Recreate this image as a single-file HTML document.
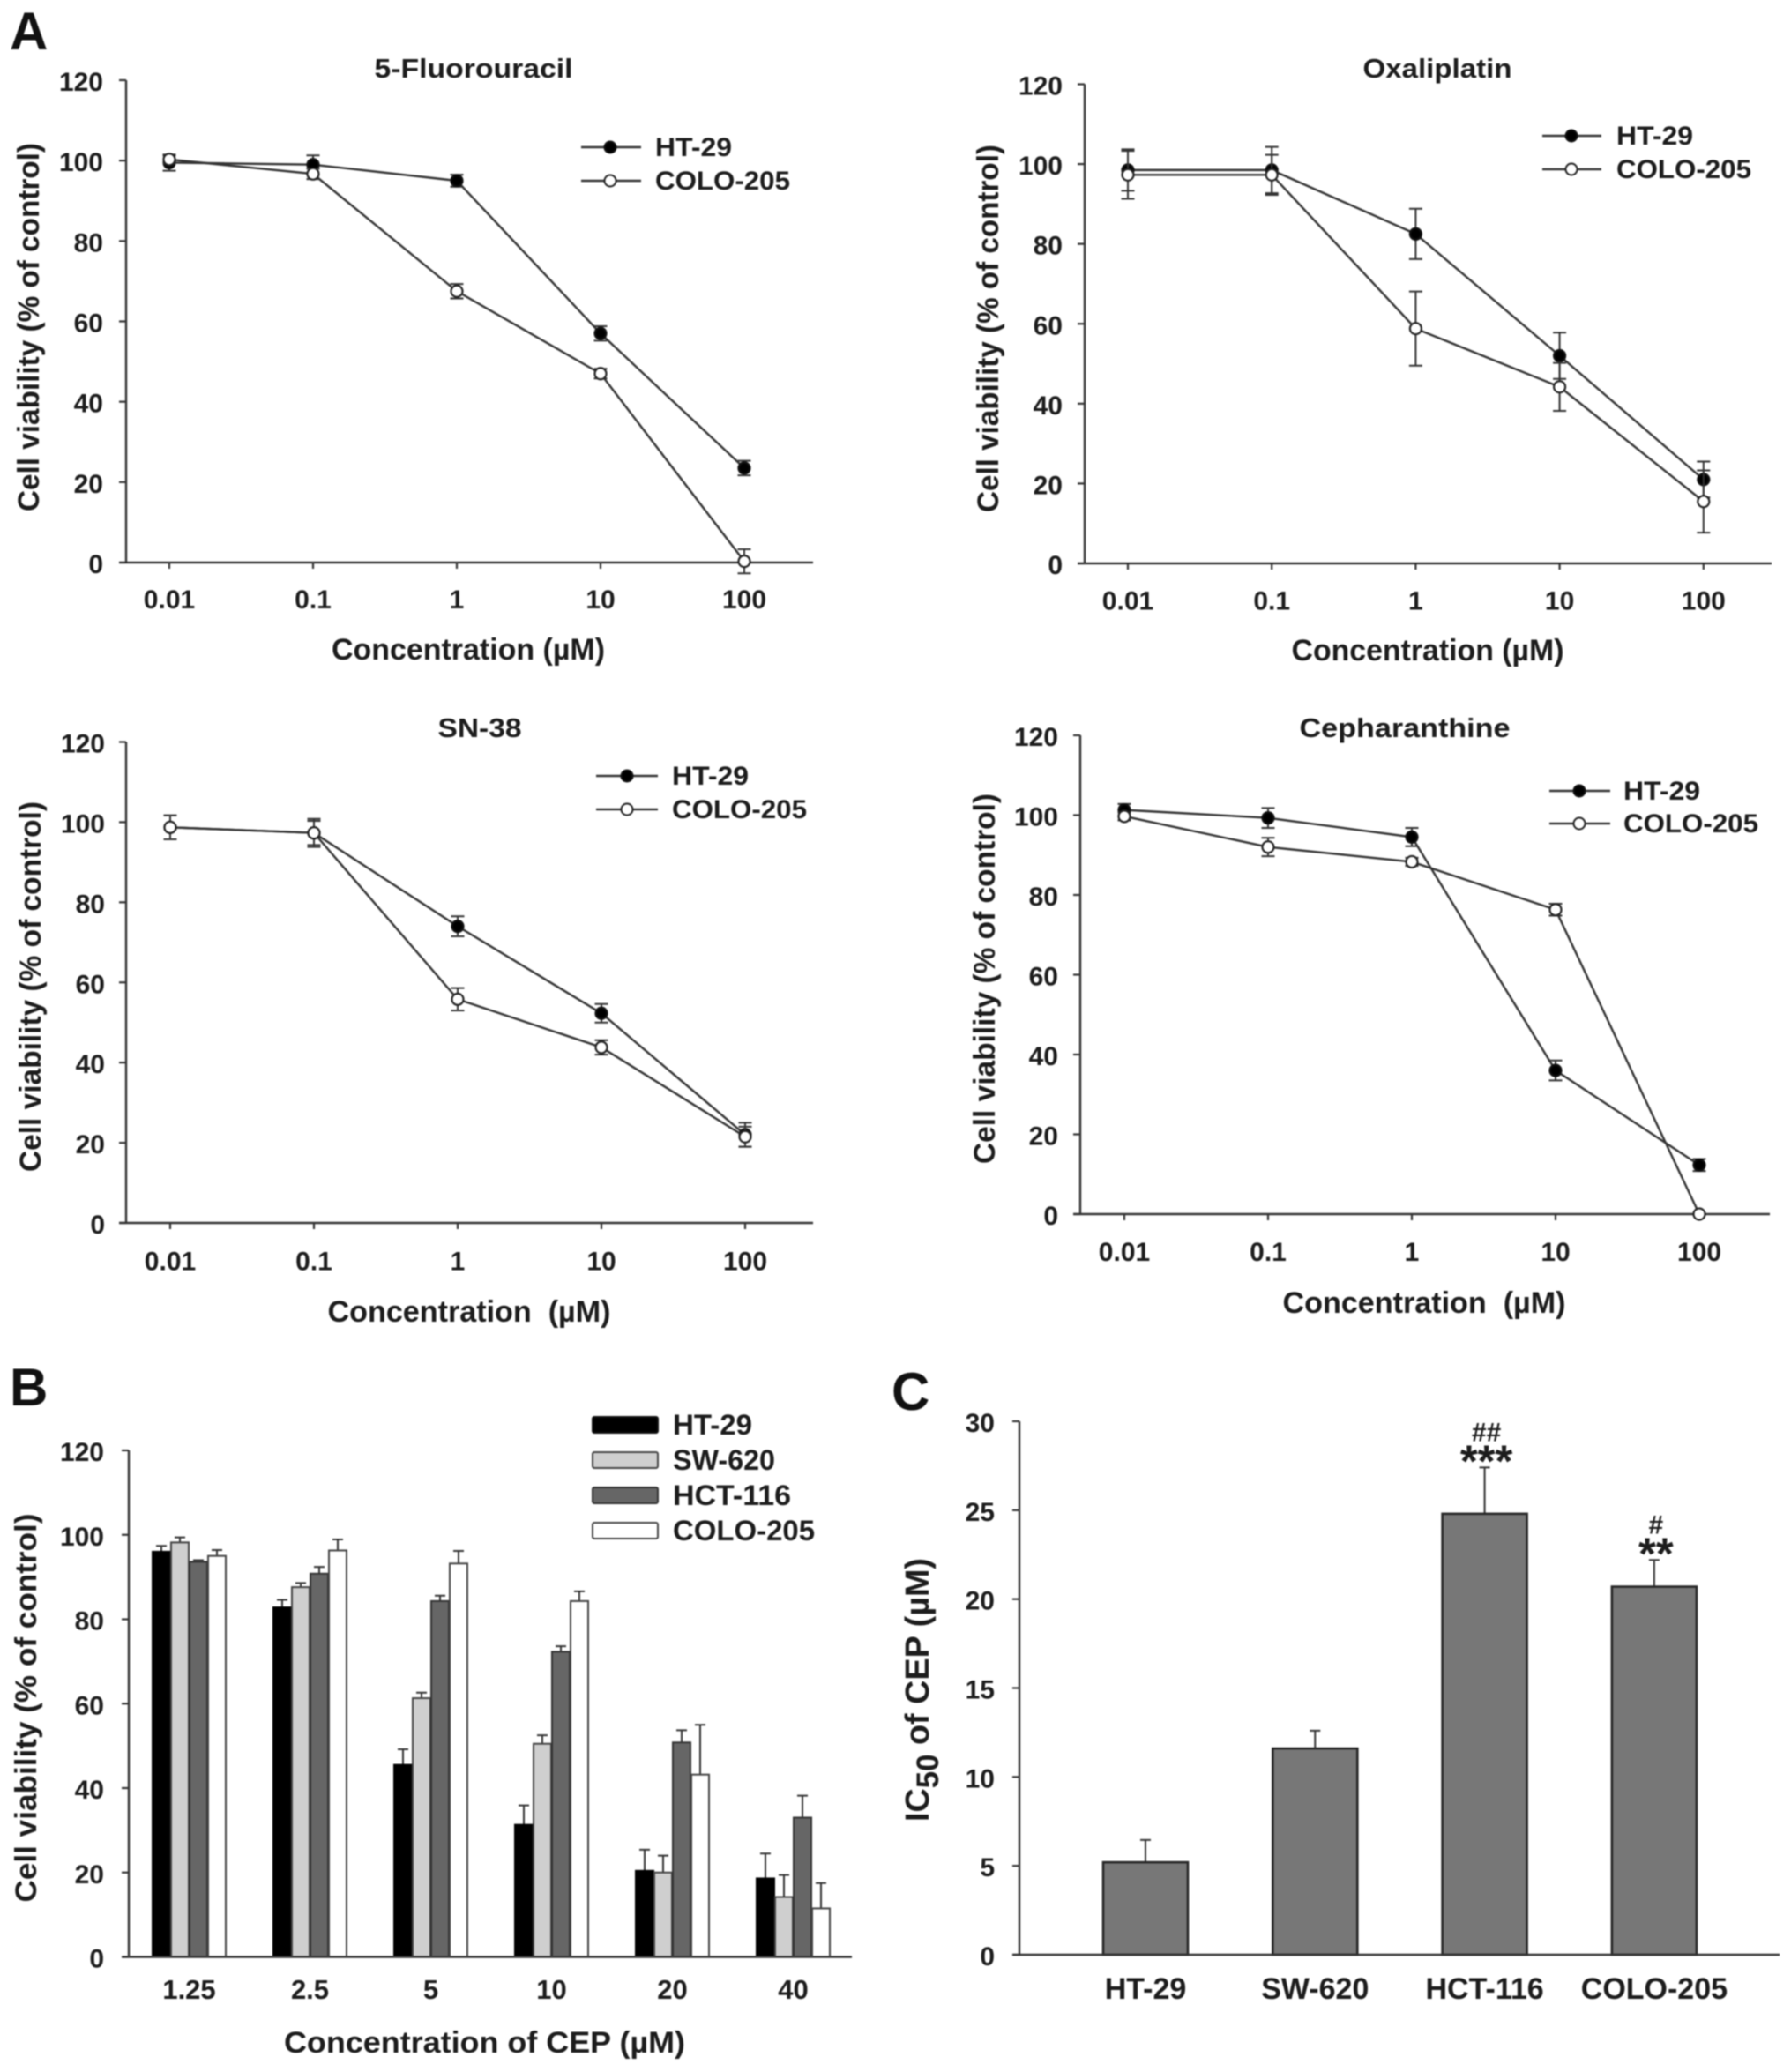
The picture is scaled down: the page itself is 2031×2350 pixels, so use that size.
<!DOCTYPE html>
<html lang="en">
<head>
<meta charset="utf-8">
<title>Cell viability charts</title>
<style>
html,body{margin:0;padding:0;background:#fff;}
#figure{display:block;width:2031px;height:2350px;filter:blur(0.8px);}
text{font-family:"Liberation Sans",Arial,sans-serif;font-weight:bold;fill:#1c1c1c;}
.tick{font-size:30px;}
.title{font-size:31px;}
.axt{font-size:34px;}
.leg{font-size:30px;}
.lab{font-size:60px;fill:#111;}
</style>
</head>
<body>
<svg id="figure" xmlns="http://www.w3.org/2000/svg" width="2031" height="2350" viewBox="0 0 2031 2350">
  <rect width="2031" height="2350" fill="#fff"/>

  <text class="lab" x="11" y="56">A</text>
  <text class="lab" x="11" y="1594">B</text>
  <text class="lab" x="1011" y="1599">C</text>

  <g id="p1">
    <text class="title" x="537" y="88" text-anchor="middle" textLength="225" lengthAdjust="spacingAndGlyphs">5-Fluorouracil</text>
    <text class="axt" transform="translate(44,371) rotate(-90)" text-anchor="middle" textLength="418" lengthAdjust="spacingAndGlyphs">Cell viability (% of control)</text>
    <text class="axt" x="531" y="748" text-anchor="middle" textLength="310" lengthAdjust="spacingAndGlyphs">Concentration (µM)</text>
    <g>
      <line x1="659" x2="727" y1="167" y2="167" stroke="#333" stroke-width="2.5"/>
      <circle cx="692" cy="167" r="6.5" fill="#000" stroke="#111" stroke-width="2"/>
      <text class="leg" x="743" y="177" textLength="87" lengthAdjust="spacingAndGlyphs">HT-29</text>
      <line x1="659" x2="727" y1="205" y2="205" stroke="#333" stroke-width="2.5"/>
      <circle cx="692" cy="205" r="6.5" fill="#fff" stroke="#222" stroke-width="2"/>
      <text class="leg" x="743" y="215" textLength="153" lengthAdjust="spacingAndGlyphs">COLO-205</text>
    </g>
  </g>

  <g id="p2">
    <text class="title" x="1630" y="88" text-anchor="middle" textLength="169" lengthAdjust="spacingAndGlyphs">Oxaliplatin</text>
    <text class="axt" transform="translate(1132,372.5) rotate(-90)" text-anchor="middle" textLength="417" lengthAdjust="spacingAndGlyphs">Cell viability (% of control)</text>
    <text class="axt" x="1619" y="749" text-anchor="middle" textLength="309" lengthAdjust="spacingAndGlyphs">Concentration (µM)</text>
    <g>
      <line x1="1749" x2="1816" y1="154" y2="154" stroke="#333" stroke-width="2.5"/>
      <circle cx="1782" cy="154" r="6.5" fill="#000" stroke="#111" stroke-width="2"/>
      <text class="leg" x="1833" y="164" textLength="87" lengthAdjust="spacingAndGlyphs">HT-29</text>
      <line x1="1749" x2="1816" y1="192" y2="192" stroke="#333" stroke-width="2.5"/>
      <circle cx="1782" cy="192" r="6.5" fill="#fff" stroke="#222" stroke-width="2"/>
      <text class="leg" x="1833" y="202" textLength="153" lengthAdjust="spacingAndGlyphs">COLO-205</text>
    </g>
  </g>

  <g id="p3">
    <text class="title" x="544" y="836" text-anchor="middle" textLength="95" lengthAdjust="spacingAndGlyphs">SN-38</text>
    <text class="axt" transform="translate(46,1119) rotate(-90)" text-anchor="middle" textLength="420" lengthAdjust="spacingAndGlyphs">Cell viability (% of control)</text>
    <text class="axt" x="532" y="1499" text-anchor="middle" textLength="321" lengthAdjust="spacingAndGlyphs" xml:space="preserve">Concentration  (µM)</text>
    <g>
      <line x1="676" x2="746" y1="880" y2="880" stroke="#333" stroke-width="2.5"/>
      <circle cx="711" cy="880" r="6.5" fill="#000" stroke="#111" stroke-width="2"/>
      <text class="leg" x="762" y="890" textLength="87" lengthAdjust="spacingAndGlyphs">HT-29</text>
      <line x1="676" x2="746" y1="918" y2="918" stroke="#333" stroke-width="2.5"/>
      <circle cx="711" cy="918" r="6.5" fill="#fff" stroke="#222" stroke-width="2"/>
      <text class="leg" x="762" y="928" textLength="153" lengthAdjust="spacingAndGlyphs">COLO-205</text>
    </g>
  </g>

  <g id="p4">
    <text class="title" x="1593" y="836" text-anchor="middle" textLength="239" lengthAdjust="spacingAndGlyphs">Cepharanthine</text>
    <text class="axt" transform="translate(1128,1110) rotate(-90)" text-anchor="middle" textLength="420" lengthAdjust="spacingAndGlyphs">Cell viability (% of control)</text>
    <text class="axt" x="1615" y="1489" text-anchor="middle" textLength="321" lengthAdjust="spacingAndGlyphs" xml:space="preserve">Concentration  (µM)</text>
    <g>
      <line x1="1757" x2="1826" y1="897" y2="897" stroke="#333" stroke-width="2.5"/>
      <circle cx="1791" cy="897" r="6.5" fill="#000" stroke="#111" stroke-width="2"/>
      <text class="leg" x="1841" y="907" textLength="87" lengthAdjust="spacingAndGlyphs">HT-29</text>
      <line x1="1757" x2="1826" y1="934" y2="934" stroke="#333" stroke-width="2.5"/>
      <circle cx="1791" cy="934" r="6.5" fill="#fff" stroke="#222" stroke-width="2"/>
      <text class="leg" x="1841" y="944" textLength="153" lengthAdjust="spacingAndGlyphs">COLO-205</text>
    </g>
  </g>

  <g id="p5">
    <text class="axt" transform="translate(41,1937) rotate(-90)" text-anchor="middle" textLength="441" lengthAdjust="spacingAndGlyphs">Cell viability (% of control)</text>
    <text class="axt" x="549.5" y="2328" text-anchor="middle" textLength="455" lengthAdjust="spacingAndGlyphs">Concentration of CEP (µM)</text>
    <g>
      <rect x="672" y="1607" width="74" height="18" rx="2" fill="#000" stroke="#111" stroke-width="2"/>
      <text class="leg" x="763" y="1627" textLength="90" lengthAdjust="spacingAndGlyphs" style="font-size:32px">HT-29</text>
      <rect x="672" y="1647" width="74" height="18" rx="2" fill="#cfcfcf" stroke="#444" stroke-width="2"/>
      <text class="leg" x="763" y="1667" textLength="116" lengthAdjust="spacingAndGlyphs" style="font-size:32px">SW-620</text>
      <rect x="672" y="1687" width="74" height="18" rx="2" fill="#666" stroke="#333" stroke-width="2"/>
      <text class="leg" x="763" y="1707" textLength="134" lengthAdjust="spacingAndGlyphs" style="font-size:32px">HCT-116</text>
      <rect x="672" y="1727" width="74" height="18" rx="2" fill="#fff" stroke="#444" stroke-width="2"/>
      <text class="leg" x="763" y="1747" textLength="161" lengthAdjust="spacingAndGlyphs" style="font-size:32px">COLO-205</text>
    </g>
  </g>

  <g id="p6">
    <text transform="translate(1053,1916.5) rotate(-90)" text-anchor="middle" textLength="299" lengthAdjust="spacingAndGlyphs" font-size="38">IC<tspan dy="11" font-size="35">50</tspan><tspan dy="-11"> of CEP (µM)</tspan></text>
  </g>
</svg>

<script>
const lineCategories = ['0.01', '0.1', '1', '10', '100'];
const lineTicks = [0, 20, 40, 60, 80, 100, 120];

const fluorouracilHt29 = [99.5, 99, 95, 57, 23.5];
const fluorouracilHt29Err = [2, 2.3, 1.5, 1.8, 1.8];
const fluorouracilColo205 = [100.3, 96.7, 67.5, 47, 0.3];
const fluorouracilColo205Err = [1, 1.3, 1.8, 1.2, 3];

const oxaliplatinHt29 = [98.5, 98.5, 82.5, 52, 21];
const oxaliplatinHt29Err = [5.2, 5.8, 6.3, 5.8, 4.5];
const oxaliplatinColo205 = [97.3, 97.3, 58.8, 44.2, 15.5];
const oxaliplatinColo205Err = [6, 5, 9.3, 6, 7.8];

const sn38Ht29 = [98.7, 97.3, 74, 52.3, 22];
const sn38Ht29Err = [3, 3, 2.5, 2.3, 3];
const sn38Colo205 = [98.7, 97.3, 55.8, 43.8, 21.5];
const sn38Colo205Err = [3, 3.5, 2.8, 1.8, 2.5];

const cepharanthineHt29 = [101.3, 99.3, 94.5, 36, 12.3];
const cepharanthineHt29Err = [1.5, 2.5, 2.3, 2.5, 1.5];
const cepharanthineColo205 = [99.7, 92, 88.3, 76.3, 0];
const cepharanthineColo205Err = [1, 2.3, 1, 1.5, 0];

const doseCategories = ['1.25', '2.5', '5', '10', '20', '40'];
const doseHt29 = [96, 82.8, 45.5, 31.3, 20.4, 18.6];
const doseHt29Err = [1.4, 1.8, 3.7, 4.6, 5, 5.9];
const doseSw620 = [98.2, 87.6, 61.3, 50.5, 20, 14.2];
const doseSw620Err = [1.2, 1, 1.3, 2, 4, 5.2];
const doseHct116 = [93.6, 90.8, 84.3, 72.3, 50.8, 33];
const doseHct116Err = [0.4, 1.6, 1.3, 1.3, 2.9, 5.2];
const doseColo205 = [95, 96.3, 93.2, 84.3, 43.2, 11.5];
const doseColo205Err = [1.4, 2.6, 3, 2.3, 11.8, 6];

const ic50Categories = ['HT-29', 'SW-620', 'HCT-116', 'COLO-205'];
const ic50Values = [5.2, 11.6, 24.8, 20.7];
const ic50Err = [1.25, 1, 2.6, 1.5];
const ic50Ticks = [0, 5, 10, 15, 20, 25, 30];
const ic50Stars = ['', '', '***', '**'];
const ic50Hashes = ['', '', '##', '#'];

const NS = 'http://www.w3.org/2000/svg';

function make(parent, tag, attrs, content) {
  const node = document.createElementNS(NS, tag);
  Object.keys(attrs).forEach(function (k) { node.setAttribute(k, attrs[k]); });
  if (content !== undefined) node.textContent = content;
  parent.appendChild(node);
  return node;
}

function yScale(box, max) {
  return function (v) { return box.y0 - (v / max) * (box.y0 - box.yTop); };
}

function drawAxes(g, box, ticks, max, categories, xOf, xLabelY, tickBelow, xLabelSize) {
  const y = yScale(box, max);
  const yAxis = make(g, 'line', {x1: box.x0, x2: box.x0, y1: box.yTop, y2: box.y0, stroke: '#333', 'stroke-width': 2.4});
  
  
  const xAxis = make(g, 'line', {x1: box.x0 - 8, x2: box.xEnd, y1: box.y0, y2: box.y0, stroke: '#333', 'stroke-width': 2.4});
  
  
  ticks.forEach(function (t) {
    const tickMark = make(g, 'line', {x1: box.x0 - 8, x2: box.x0, y1: y(t), y2: y(t), stroke: '#333', 'stroke-width': 2.2});
    
    
    const label = make(g, 'text', {class: 'tick', x: box.labelRight, y: y(t) + 12, 'text-anchor': 'end'}, String(t));
    
    
  });
  categories.forEach(function (c, i) {
    if (tickBelow) {
      const tickMark = make(g, 'line', {x1: xOf(i), x2: xOf(i), y1: box.y0, y2: box.y0 + 7, stroke: '#333', 'stroke-width': 2.2});
      
      
    }
    const label = make(g, 'text', {class: 'tick', x: xOf(i), y: xLabelY, 'text-anchor': 'middle', style: 'font-size:' + xLabelSize + 'px'}, c);
    
    
  });
}

function drawSeries(g, seriesName, values, errs, xOf, y, filled) {
  const points = values.map(function (v, i) { return xOf(i) + ',' + y(v); }).join(' ');
  const path = make(g, 'polyline', {points: points, fill: 'none', stroke: '#333', 'stroke-width': 2.4});
  
  
  values.forEach(function (v, i) {
    const x = xOf(i);
    const err = make(g, 'path', {
      d: 'M' + x + ' ' + y(v - errs[i]) + 'V' + y(v + errs[i]) +
         'M' + (x - 7.5) + ' ' + y(v + errs[i]) + 'h15' +
         'M' + (x - 7.5) + ' ' + y(v - errs[i]) + 'h15',
      fill: 'none', stroke: '#333', 'stroke-width': 2
    });
    
    
  });
  values.forEach(function (v, i) {
    const dot = make(g, 'circle', {cx: xOf(i), cy: y(v), r: 6.5, fill: filled ? '#000' : '#fff', stroke: filled ? '#111' : '#222', 'stroke-width': 2.2});
    
    
  });
}

function drawLinePanel(id, box, ht, htErr, colo, coloErr) {
  const g = document.getElementById(id);
  const xOf = function (i) { return box.first + i * box.step; };
  const y = yScale(box, 120);
  drawAxes(g, box, lineTicks, 120, lineCategories, xOf, box.xLabelY, true, 30);
  drawSeries(g, 'ht-29', ht, htErr, xOf, y, true);
  drawSeries(g, 'colo-205', colo, coloErr, xOf, y, false);
}

drawLinePanel('p1', {x0: 143, xEnd: 922, y0: 638, yTop: 91, labelRight: 117, first: 192, step: 163, xLabelY: 690}, fluorouracilHt29, fluorouracilHt29Err, fluorouracilColo205, fluorouracilColo205Err);
drawLinePanel('p2', {x0: 1230, xEnd: 2009, y0: 639, yTop: 95.5, labelRight: 1205, first: 1279, step: 163.2, xLabelY: 691.5}, oxaliplatinHt29, oxaliplatinHt29Err, oxaliplatinColo205, oxaliplatinColo205Err);
drawLinePanel('p3', {x0: 143, xEnd: 922, y0: 1387, yTop: 841.5, labelRight: 119, first: 193, step: 163, xLabelY: 1440.5}, sn38Ht29, sn38Ht29Err, sn38Colo205, sn38Colo205Err);
drawLinePanel('p4', {x0: 1225, xEnd: 2007, y0: 1377, yTop: 834, labelRight: 1200, first: 1275, step: 163, xLabelY: 1430}, cepharanthineHt29, cepharanthineHt29Err, cepharanthineColo205, cepharanthineColo205Err);

function drawBar(g, name, cx, width, top, bottom, errTop, fill, stroke, sw, cap) {
  const err = make(g, 'path', {d: 'M' + cx + ' ' + top + 'V' + errTop + 'M' + (cx - cap) + ' ' + errTop + 'h' + (2 * cap), fill: 'none', stroke: '#333', 'stroke-width': 2});
  
  
  const bar = make(g, 'rect', {x: cx - width / 2, y: top, width: width, height: bottom - top, fill: fill, stroke: stroke, 'stroke-width': sw});
  
  
}

(function () {
  const g = document.getElementById('p5');
  const box = {x0: 146, xEnd: 966, y0: 2219.5, yTop: 1645, labelRight: 118};
  const band = 137;
  const xOf = function (i) { return box.x0 + 68.5 + i * band; };
  const y = yScale(box, 120);
  const groups = [
    {name: 'ht-29', vals: doseHt29, errs: doseHt29Err, fill: '#000', stroke: '#000'},
    {name: 'sw-620', vals: doseSw620, errs: doseSw620Err, fill: '#cfcfcf', stroke: '#444'},
    {name: 'hct-116', vals: doseHct116, errs: doseHct116Err, fill: '#666', stroke: '#333'},
    {name: 'colo-205', vals: doseColo205, errs: doseColo205Err, fill: '#fff', stroke: '#444'}
  ];
  const barW = 21;
  groups.forEach(function (s, si) {
    s.vals.forEach(function (v, i) {
      const cx = xOf(i) + (si - 1.5) * barW;
      drawBar(g, s.name, cx, barW - 1, y(v), box.y0, y(v + s.errs[i]), s.fill, s.stroke, 2, 6);
    });
  });
  drawAxes(g, box, lineTicks, 120, doseCategories, xOf, 2267, false, 31);
})();

(function () {
  const g = document.getElementById('p6');
  const box = {x0: 1156, xEnd: 2018, y0: 2217, yTop: 1612, labelRight: 1128};
  const band = 192.3;
  const xOf = function (i) { return box.x0 + 143 + i * band; };
  const y = yScale(box, 30);
  ic50Values.forEach(function (v, i) {
    drawBar(g, 'ic50', xOf(i), 96, y(v), box.y0, y(v + ic50Err[i]), '#777', '#262626', 2.6, 6);
    if (ic50Stars[i]) {
      const stars = make(g, 'text', {x: xOf(i) + 2, y: y(v + ic50Err[i]) + 10, 'text-anchor': 'middle', 'font-size': 51}, ic50Stars[i]);
      
      
      const hashes = make(g, 'text', {x: xOf(i) + 2, y: y(v + ic50Err[i]) - 30, 'text-anchor': 'middle', 'font-size': 30}, ic50Hashes[i]);
      
      
    }
  });
  drawAxes(g, box, ic50Ticks, 30, ic50Categories, xOf, 2267, false, 34);
})();
</script>
</body>
</html>
